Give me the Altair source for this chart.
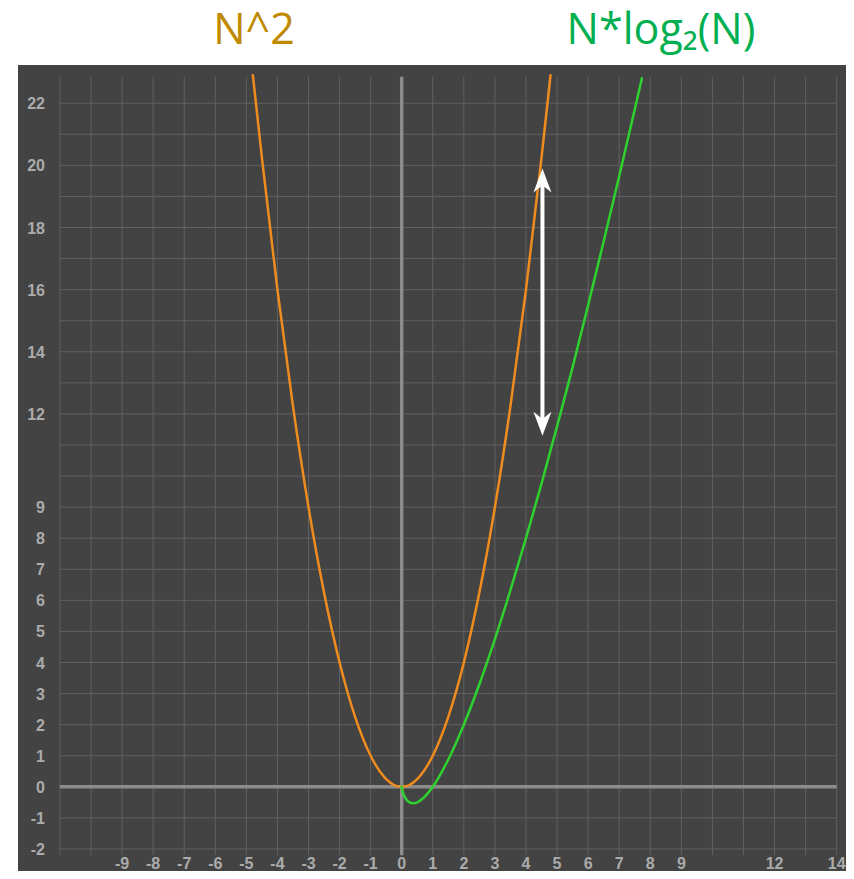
import altair as alt
import pandas as pd

# ---------------- data ----------------
n2_x = [-4.79, -4.5, -4.0, -3.5, -3.0, -2.5, -2.0, -1.5, -1.0, -0.5, 0.0,
        0.5, 1.0, 1.5, 2.0, 2.5, 3.0, 3.5, 4.0, 4.5, 4.79]
n2_y = [22.9, 20.25, 16.0, 12.25, 9.0, 6.25, 4.0, 2.25, 1.0, 0.25, 0.0,
        0.25, 1.0, 2.25, 4.0, 6.25, 9.0, 12.25, 16.0, 20.25, 22.9]

nlog_x = [0.0, 0.03, 0.08, 0.15, 0.25, 0.37, 0.5, 0.75, 1.0, 1.5, 2.0, 2.5,
          3.0, 3.5, 4.0, 4.5, 5.0, 5.5, 6.0, 6.5, 7.0, 7.5, 7.73]
nlog_y = [0.0, -0.15, -0.29, -0.41, -0.5, -0.53, -0.5, -0.31, 0.0, 0.88, 2.0, 3.3,
          4.75, 6.33, 8.0, 9.76, 11.6, 13.5, 15.5, 17.55, 19.65, 21.8, 22.8]

grid_x = list(range(-11, 15))
grid_y = list(range(-2, 23))
grid_x_extent = [-11, 14]
grid_y_extent = [-2.2, 22.85]

x_tick_labels = [-9, -8, -7, -6, -5, -4, -3, -2, -1, 0, 1, 2, 3, 4, 5, 6, 7, 8, 9, 12, 14]
y_tick_labels = [-2, -1, 0, 1, 2, 3, 4, 5, 6, 7, 8, 9, 12, 14, 16, 18, 20, 22]

arrow_x = [4.53]
arrow_tip_top = [19.9]
arrow_tip_bottom = [11.3]
arrow_shaft_top = [19.4]
arrow_shaft_bottom = [11.8]

titles = ["N^2", "N*log₂(N)"]
title_colors = ["#bf8a00", "#00b050"]

# ---------------- styling ----------------
BG = "#434343"
GRID = "#616161"
AXIS = "#8c8c8c"
LABEL = "#ababab"
ORANGE = "#f08c1e"
GREEN = "#2ed22e"

xs = alt.Scale(domain=[-12.35, 14.30], nice=False, zero=False)
ys = alt.Scale(domain=[-2.71, 23.23], nice=False, zero=False)

vgrid_df = pd.DataFrame({"x": grid_x, "y": grid_y_extent[0], "y2": grid_y_extent[1]})
hgrid_df = pd.DataFrame({"y": grid_y, "x": grid_x_extent[0], "x2": grid_x_extent[1]})

vgrid = alt.Chart(vgrid_df).mark_rule(color=GRID, strokeWidth=1).encode(
    x=alt.X("x:Q", scale=xs, axis=None),
    y=alt.Y("y:Q", scale=ys, axis=None),
    y2="y2:Q",
)
hgrid = alt.Chart(hgrid_df).mark_rule(color=GRID, strokeWidth=1).encode(
    y=alt.Y("y:Q", scale=ys, axis=None),
    x=alt.X("x:Q", scale=xs, axis=None),
    x2="x2:Q",
)

xaxis_df = pd.DataFrame({"y": [0], "x": [grid_x_extent[0]], "x2": [grid_x_extent[1]]})
yaxis_df = pd.DataFrame({"x": [0], "y": [grid_y_extent[0]], "y2": [grid_y_extent[1]]})
xaxis_line = alt.Chart(xaxis_df).mark_rule(color=AXIS, strokeWidth=3.5).encode(
    y=alt.Y("y:Q", scale=ys, axis=None),
    x=alt.X("x:Q", scale=xs, axis=None),
    x2="x2:Q",
)
yaxis_line = alt.Chart(yaxis_df).mark_rule(color=AXIS, strokeWidth=3.5).encode(
    x=alt.X("x:Q", scale=xs, axis=None),
    y=alt.Y("y:Q", scale=ys, axis=None),
    y2="y2:Q",
)

n2_df = pd.DataFrame({"x": n2_x, "y": n2_y})
nlog_df = pd.DataFrame({"x": nlog_x, "y": nlog_y})

n2_line = alt.Chart(n2_df).mark_line(
    color=ORANGE, strokeWidth=2.5, interpolate="monotone", strokeCap="round"
).encode(x=alt.X("x:Q", scale=xs, axis=None), y=alt.Y("y:Q", scale=ys, axis=None),
         order="x:Q")
nlog_line = alt.Chart(nlog_df).mark_line(
    color=GREEN, strokeWidth=2.5, interpolate="monotone", strokeCap="round"
).encode(x=alt.X("x:Q", scale=xs, axis=None), y=alt.Y("y:Q", scale=ys, axis=None),
         order="x:Q")

shaft_df = pd.DataFrame({"x": arrow_x, "y": arrow_shaft_top, "y2": arrow_shaft_bottom})
shaft = alt.Chart(shaft_df).mark_rule(color="white", strokeWidth=4).encode(
    x=alt.X("x:Q", scale=xs, axis=None),
    y=alt.Y("y:Q", scale=ys, axis=None),
    y2="y2:Q",
)
head_up_df = pd.DataFrame({"x": arrow_x, "y": arrow_tip_top})
head_dn_df = pd.DataFrame({"x": arrow_x, "y": arrow_tip_bottom})
head_up = alt.Chart(head_up_df).mark_point(
    shape="M0,0L0.75,2L0,1.4L-0.75,2Z", size=576, filled=True, color="white", opacity=1,
    strokeWidth=0,
).encode(x=alt.X("x:Q", scale=xs, axis=None), y=alt.Y("y:Q", scale=ys, axis=None))
head_dn = alt.Chart(head_dn_df).mark_point(
    shape="M0,0L0.75,-2L0,-1.4L-0.75,-2Z", size=576, filled=True, color="white", opacity=1,
    strokeWidth=0,
).encode(x=alt.X("x:Q", scale=xs, axis=None), y=alt.Y("y:Q", scale=ys, axis=None))

ylab_df = pd.DataFrame({"v": y_tick_labels, "t": [str(v) for v in y_tick_labels]})
xlab_df = pd.DataFrame({"v": x_tick_labels, "t": [str(v) for v in x_tick_labels]})

ylabels = alt.Chart(ylab_df).mark_text(
    align="right", baseline="middle", font="Liberation Sans", fontSize=16,
    fontWeight="bold", color=LABEL, dy=1,
).encode(y=alt.Y("v:Q", scale=ys, axis=None), x=alt.value(27), text="t:N")

xlabels = alt.Chart(xlab_df).mark_text(
    align="center", baseline="alphabetic", font="Liberation Sans", fontSize=16,
    fontWeight="bold", color=LABEL,
).encode(x=alt.X("v:Q", scale=xs, axis=None), y=alt.value(804), text="t:N")

title_df = pd.DataFrame({"t": titles, "c": title_colors, "px": [236, 643]})
title_marks = alt.Chart(title_df).mark_text(
    align="center", baseline="alphabetic", font="Open Sans", fontSize=43,
).encode(
    x=alt.X("px:Q", scale=None, axis=None),
    y=alt.value(-21),
    text="t:N",
    color=alt.Color("c:N", scale=None, legend=None),
)

chart = alt.layer(
    vgrid, hgrid, xaxis_line, yaxis_line, n2_line, nlog_line,
    shaft, head_up, head_dn, ylabels, xlabels, title_marks,
).properties(
    width=828, height=806,
    autosize=alt.AutoSizeParams(type="none"),
    padding={"left": 10, "top": 57, "right": 0, "bottom": 0},
    background="white",
).configure_view(fill=BG, stroke=None)

chart.save("out.html", embed_options={"renderer": "svg", "actions": False})
